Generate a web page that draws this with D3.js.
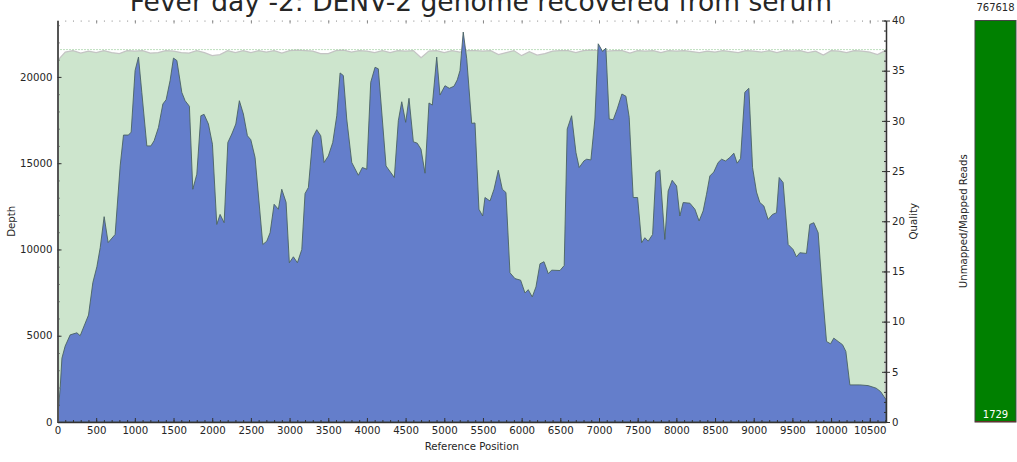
<!DOCTYPE html>
<html>
<head>
<meta charset="utf-8">
<script src="https://cdn.jsdelivr.net/npm/d3@7"></script>
<style>
  body { margin: 0; background: #fff; }
  svg text { font-family: "DejaVu Sans", sans-serif; fill: #262626; }
</style>
</head>
<body>
<svg id="chart" width="1017" height="462"></svg>
<script>
// Coverage depth along the reference (position in bp, read depth)
const depthPositions = [
  0, 35, 57, 99, 164, 251, 293, 401, 457, 509, 552, 603, 655, 745, 810, 853, 917, 952,
  1003, 1047, 1090, 1155, 1207, 1249, 1305, 1362, 1404, 1456, 1499, 1543, 1607, 1650, 1705,
  1749, 1801, 1853, 1895, 1951, 2003, 2059, 2102, 2154, 2202, 2253, 2305, 2351, 2403, 2455,
  2499, 2554, 2654, 2705, 2748, 2800, 2855, 2899, 2955, 2997, 3049, 3101, 3158, 3200, 3243,
  3300, 3351, 3403, 3446, 3501, 3558, 3610, 3653, 3695, 3739, 3804, 3889, 3941, 3998, 4049,
  4105, 4147, 4247, 4354, 4406, 4450, 4501, 4544, 4600, 4651, 4699, 4751, 4802, 4845, 4902,
  4944, 5009, 5065, 5125, 5168, 5203, 5245, 5290, 5354, 5397, 5448, 5496, 5526, 5591, 5643,
  5698, 5750, 5797, 5849, 5914, 5987, 6043, 6085, 6137, 6185, 6237, 6289, 6344, 6388, 6495,
  6550, 6589, 6646, 6702, 6744, 6805, 6840, 6895, 6947, 6990, 7047, 7089, 7132, 7184, 7235,
  7296, 7348, 7390, 7442, 7499, 7551, 7593, 7636, 7693, 7735, 7787, 7851, 7894, 7946, 8003,
  8045, 8088, 8175, 8240, 8294, 8346, 8390, 8433, 8484, 8540, 8584, 8636, 8691, 8743, 8786,
  8830, 8885, 8937, 8985, 9036, 9079, 9131, 9186, 9243, 9295, 9329, 9380, 9445, 9509, 9553,
  9596, 9682, 9725, 9777, 9833, 9889, 9941, 9993, 10035, 10091, 10148, 10191, 10243, 10372,
  10479, 10583, 10641, 10684, 10710
];
const depthValues = [
  100, 2000, 3700, 4400, 5050, 5170, 5000, 6200, 8080, 9000, 10100, 11900, 10400, 10870, 14840, 16630, 16630, 16800,
  20370, 21150, 19100, 16000, 16000, 16300, 17070, 18430, 18680, 19800, 21090, 20950, 19100, 18620, 18300,
  13490, 14360, 17750, 17830, 17270, 16100, 11450, 12030, 11550, 16200, 16690, 17270, 18620, 17850, 16590,
  16360, 15330, 10290, 10480, 10970, 12620, 12330, 13490, 12730, 9230, 9575, 9230, 10000, 13240, 13590,
  16490, 16940, 16590, 15040, 15420, 16200, 17750, 20230, 20080, 17560, 15040, 14300, 14750, 14650, 19690,
  20560, 20470, 14840, 14170, 17460, 18560, 17370, 18760, 16240, 16160, 15810, 14420, 18490, 18370, 21150,
  18950, 19490, 19340, 19460, 19830, 20370, 22600, 21050, 17310, 17330, 12330, 11940, 13010, 12810, 13490,
  14590, 13490, 13300, 8650, 8310, 8220, 7480, 7670, 7250, 7830, 9170, 9290, 8600, 8800, 8780,
  9070, 16980, 17750, 15620, 14750, 15130, 15230, 15190, 17560, 21920, 21470, 21670, 17560, 17520, 18140,
  19010, 18880, 17660, 13010, 13010, 10390, 10680, 10480, 10870, 14460, 14610, 10580, 13390, 14010, 13680,
  11940, 12720, 12680, 12330, 11650, 12230, 13200, 14260, 14490, 15040, 15230, 15130, 15330, 15580, 15000,
  15270, 19110, 19340, 14750, 13330, 12720, 12520, 11740, 12030, 12130, 14170, 13880, 10290, 10000, 9570,
  9810, 9770, 11450, 11550, 10970, 7480, 4670, 4530, 4860, 4670, 4480, 4090, 2150, 2150,
  2110, 1960, 1760, 1470, 1300
];

// Mean base quality in 100 bp windows starting at position 0
const qualityStep = 100;
const qualityValues = [
  36.0, 36.85, 37.0, 36.75, 36.95, 36.8, 37.0, 36.8, 36.7, 37.0,
  36.95, 37.0, 36.75, 36.8, 37.0, 36.95, 36.8, 36.75, 37.0, 36.8,
  36.5, 36.6, 37.0, 36.8, 37.0, 36.8, 37.0, 36.85, 37.0, 36.75,
  37.0, 37.05, 37.0, 36.95, 36.7, 36.7, 37.0, 37.05, 36.85, 37.0,
  36.95, 36.8, 37.0, 36.8, 37.0, 36.95, 37.0, 36.3, 36.95, 37.0,
  36.8, 37.0, 36.85, 37.0, 37.0, 36.95, 37.0, 36.6, 36.8, 37.0,
  36.5, 36.9, 36.55, 36.7, 36.95, 37.0, 37.0, 36.8, 37.0, 37.05,
  37.0, 36.95, 37.0, 37.0, 36.75, 37.0, 36.95, 37.0, 36.8, 37.0,
  36.95, 37.0, 36.9, 36.8, 36.95, 36.85, 37.0, 36.9, 36.8, 37.0,
  36.95, 36.85, 37.0, 36.8, 37.0, 36.95, 37.0, 36.8, 36.95, 36.55,
  37.0, 36.95, 36.8, 37.0, 36.95, 36.85, 36.6, 37.0
];
const qualityReference = 37.1;

// Axis ticks
const positionTicks = [0, 500, 1000, 1500, 2000, 2500, 3000, 3500, 4000, 4500, 5000,
  5500, 6000, 6500, 7000, 7500, 8000, 8500, 9000, 9500, 10000, 10500];
const depthTicks = [0, 5000, 10000, 15000, 20000];
const qualityTicks = [0, 5, 10, 15, 20, 25, 30, 35, 40];

// Read mapping summary (stacked bar, unmapped at the bottom)
const readCategories = ["Unmapped", "Mapped"];
const readCounts = [1729, 767618];
const readColors = ["#8b0000", "#008000"];

const titleText = "Fever day -2: DENV-2 genome recovered from serum";

const svg = d3.select("#chart");
const plot = { left: 57.5, right: 886, top: 20.5, bottom: 422 };
const plain = d3.format("d");

const x = d3.scaleLinear().domain([0, 10710]).range([plot.left, plot.right]);
const yDepth = d3.scaleLinear().domain([0, 23270]).range([plot.bottom, plot.top]);
const yQual = d3.scaleLinear().domain([0, 40]).range([plot.bottom, plot.top]);

const depthData = depthPositions.map((p, i) => ({ pos: p, depth: depthValues[i] }));
const qualityData = qualityValues.map((q, i) => ({ pos: Math.min(i * qualityStep, 10710), q }));

svg.append("defs").append("clipPath").attr("id", "plotClip")
  .append("rect").attr("x", plot.left).attr("y", plot.top)
  .attr("width", plot.right - plot.left).attr("height", plot.bottom - plot.top);

const g = svg.append("g").attr("clip-path", "url(#plotClip)");

// Quality band
g.append("path")
  .datum(qualityData)
  .attr("fill", "#cde5cd")
  .attr("stroke", "#c4c4c4")
  .attr("stroke-width", 1.2)
  .attr("d", d3.area().x(d => x(d.pos)).y0(plot.bottom).y1(d => yQual(d.q)));

g.append("line")
  .attr("x1", plot.left).attr("x2", plot.right)
  .attr("y1", yQual(qualityReference)).attr("y2", yQual(qualityReference))
  .attr("stroke", "#7dbf7d").attr("stroke-width", 1)
  .attr("stroke-dasharray", "1,2");

// Depth profile
g.append("path")
  .datum(depthData)
  .attr("fill", "#647ecb")
  .attr("stroke", "#4a6262")
  .attr("stroke-width", 0.9)
  .attr("stroke-linejoin", "round")
  .attr("d", d3.area().x(d => x(d.pos)).y0(plot.bottom).y1(d => yDepth(d.depth)));

// Axes
const spineColor = "#333";
function styleAxis(sel) {
  sel.select(".domain").attr("stroke", spineColor).attr("stroke-width", 1.5);
  sel.selectAll(".tick line").attr("stroke", spineColor);
  sel.selectAll(".tick text").attr("font-size", "10.2px").attr("fill", "#262626")
    .attr("font-family", "DejaVu Sans, sans-serif");
}

// bottom minor ticks
svg.append("g").attr("transform", `translate(0,${plot.bottom})`)
  .call(d3.axisBottom(x).tickValues(d3.range(0, 10701, 100)).tickFormat("").tickSizeInner(-2).tickSizeOuter(0))
  .call(s => { s.select(".domain").remove(); s.selectAll(".tick line").attr("stroke", spineColor); });
svg.append("g").attr("transform", `translate(0,${plot.bottom})`)
  .call(d3.axisBottom(x).tickValues(positionTicks).tickFormat(plain).tickSizeInner(-4).tickSizeOuter(0).tickPadding(5))
  .call(styleAxis);

// top ticks (no spine)
svg.append("g").attr("transform", `translate(0,${plot.top})`)
  .call(d3.axisTop(x).tickValues(d3.range(0, 10701, 100)).tickFormat("").tickSizeInner(-1.2).tickSizeOuter(0))
  .call(s => { s.select(".domain").remove(); s.selectAll(".tick line").attr("stroke", "#999"); });
svg.append("g").attr("transform", `translate(0,${plot.top})`)
  .call(d3.axisTop(x).tickValues(positionTicks).tickFormat("").tickSizeInner(-3).tickSizeOuter(0))
  .call(s => { s.select(".domain").remove(); s.selectAll(".tick line").attr("stroke", "#888"); });

// left depth axis
svg.append("g").attr("transform", `translate(${plot.left},0)`)
  .call(d3.axisLeft(yDepth).tickValues(d3.range(0, 23001, 1000)).tickFormat("").tickSizeInner(-2).tickSizeOuter(0))
  .call(s => { s.select(".domain").remove(); s.selectAll(".tick line").attr("stroke", spineColor); });
svg.append("g").attr("transform", `translate(${plot.left},0)`)
  .call(d3.axisLeft(yDepth).tickValues(depthTicks).tickFormat(plain).tickSizeInner(-4).tickSizeOuter(0).tickPadding(5))
  .call(styleAxis)
  .call(s => s.select(".domain").attr("stroke", "#555").attr("stroke-width", 2));

// right quality axis
svg.append("g").attr("transform", `translate(${plot.right},0)`)
  .call(d3.axisRight(yQual).tickValues(d3.range(0, 41, 1)).tickFormat("").tickSizeInner(-2).tickSizeOuter(0))
  .call(s => { s.select(".domain").remove(); s.selectAll(".tick line").attr("stroke", spineColor); });
svg.append("g").attr("transform", `translate(${plot.right},0)`)
  .call(d3.axisRight(yQual).tickValues(qualityTicks).tickFormat(plain).tickSizeInner(4).tickSizeOuter(0).tickPadding(2))
  .call(styleAxis)
  .call(s => s.selectAll(".tick").append("line").attr("x1", 0).attr("x2", -4).attr("stroke", spineColor));

// Axis titles
svg.append("text").attr("x", (plot.left + plot.right) / 2).attr("y", 450)
  .attr("text-anchor", "middle").attr("font-size", "10.2px").text("Reference Position");
svg.append("text").attr("transform", `translate(15,${(plot.top + plot.bottom) / 2}) rotate(-90)`)
  .attr("text-anchor", "middle").attr("font-size", "10.2px").text("Depth");
svg.append("text").attr("transform", `translate(917,${(plot.top + plot.bottom) / 2}) rotate(-90)`)
  .attr("text-anchor", "middle").attr("font-size", "10.2px").text("Quality");

// Title (runs off the top of the canvas)
svg.append("text").attr("x", 481).attr("y", 10.5)
  .attr("text-anchor", "middle").attr("font-size", "26.5px").text(titleText);

// Mapped / unmapped reads bar
const bar = { left: 975, right: 1016 };
const total = d3.sum(readCounts);
const yReads = d3.scaleLinear().domain([0, total]).range([plot.bottom, plot.top]);
const stacked = [];
let acc = 0;
readCounts.forEach((c, i) => { stacked.push({ cat: readCategories[i], y0: acc, y1: acc + c, color: readColors[i] }); acc += c; });

svg.append("g").selectAll("rect").data(stacked).join("rect")
  .attr("x", bar.left).attr("width", bar.right - bar.left)
  .attr("y", d => yReads(d.y1)).attr("height", d => Math.max(yReads(d.y0) - yReads(d.y1), 1))
  .attr("fill", d => d.color);
svg.append("rect")
  .attr("x", bar.left).attr("y", yReads(total))
  .attr("width", bar.right - bar.left).attr("height", yReads(0) - yReads(total))
  .attr("fill", "none").attr("stroke", "#444").attr("stroke-width", 1);

svg.append("text").attr("x", (bar.left + bar.right) / 2).attr("y", 11)
  .attr("text-anchor", "middle").attr("font-size", "10px").text(readCounts[1]);
svg.append("text").attr("x", (bar.left + bar.right) / 2).attr("y", 417.5)
  .attr("text-anchor", "middle").attr("font-size", "10px").style("fill", "#ffffff").text(readCounts[0]);
svg.append("text").attr("transform", `translate(967,${(plot.top + plot.bottom) / 2}) rotate(-90)`)
  .attr("text-anchor", "middle").attr("font-size", "10.2px").text("Unmapped/Mapped Reads");
</script>
</body>
</html>
